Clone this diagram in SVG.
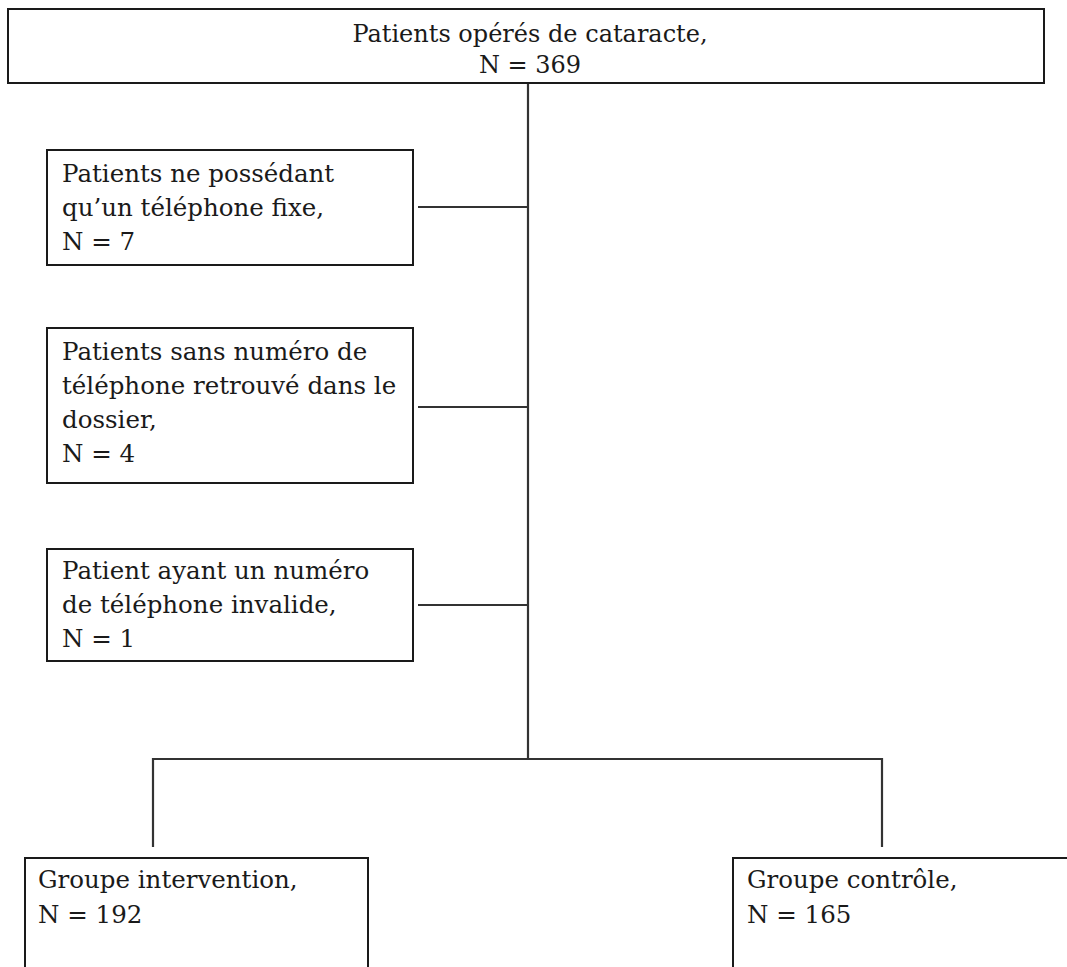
<svg xmlns="http://www.w3.org/2000/svg" width="1067" height="967" viewBox="0 0 1067 967">
<style>
.box{fill:#fff;stroke:#1a1a1a;stroke-width:2}
.t{font-family:"DejaVu Serif","Liberation Serif",serif;font-size:24.5px;fill:#1a1a1a}
.c{text-anchor:middle;font-size:24px}
.ln{stroke:#333;stroke-width:2.2;fill:none}
</style>
<rect width="1067" height="967" fill="#fff"/>
<g id="connectors">
<line class="ln" x1="528" y1="83" x2="528" y2="759"/>
<line class="ln" x1="418" y1="207" x2="528" y2="207"/>
<line class="ln" x1="418" y1="407" x2="528" y2="407"/>
<line class="ln" x1="418" y1="605" x2="528" y2="605"/>
<polyline class="ln" points="153,847 153,759 882,759 882,847"/>
</g>
<g id="n0">
<rect class="box" x="8" y="9" width="1036" height="74"/>
<text class="t c" x="530" y="42">Patients opérés de cataracte,</text>
<text class="t c" x="530" y="73">N = 369</text>
</g>
<g id="n1">
<rect class="box" x="47" y="150" width="366" height="115"/>
<text class="t" x="62" y="182">Patients ne possédant</text>
<text class="t" x="62" y="216">qu’un téléphone fixe,</text>
<text class="t" x="62" y="250">N = 7</text>
</g>
<g id="n2">
<rect class="box" x="47" y="328" width="366" height="155"/>
<text class="t" x="62" y="360">Patients sans numéro de</text>
<text class="t" x="62" y="394">téléphone retrouvé dans le</text>
<text class="t" x="62" y="428">dossier,</text>
<text class="t" x="62" y="462">N = 4</text>
</g>
<g id="n3">
<rect class="box" x="47" y="549" width="366" height="112"/>
<text class="t" x="62" y="579">Patient ayant un numéro</text>
<text class="t" x="62" y="613">de téléphone invalide,</text>
<text class="t" x="62" y="647">N = 1</text>
</g>
<g id="n4">
<rect class="box" x="25" y="858" width="343" height="130"/>
<text class="t" x="38" y="888">Groupe intervention,</text>
<text class="t" x="38" y="923">N = 192</text>
</g>
<g id="n5">
<rect class="box" x="733" y="858" width="350" height="130"/>
<text class="t" x="747" y="888">Groupe contrôle,</text>
<text class="t" x="747" y="923">N = 165</text>
</g>
</svg>
